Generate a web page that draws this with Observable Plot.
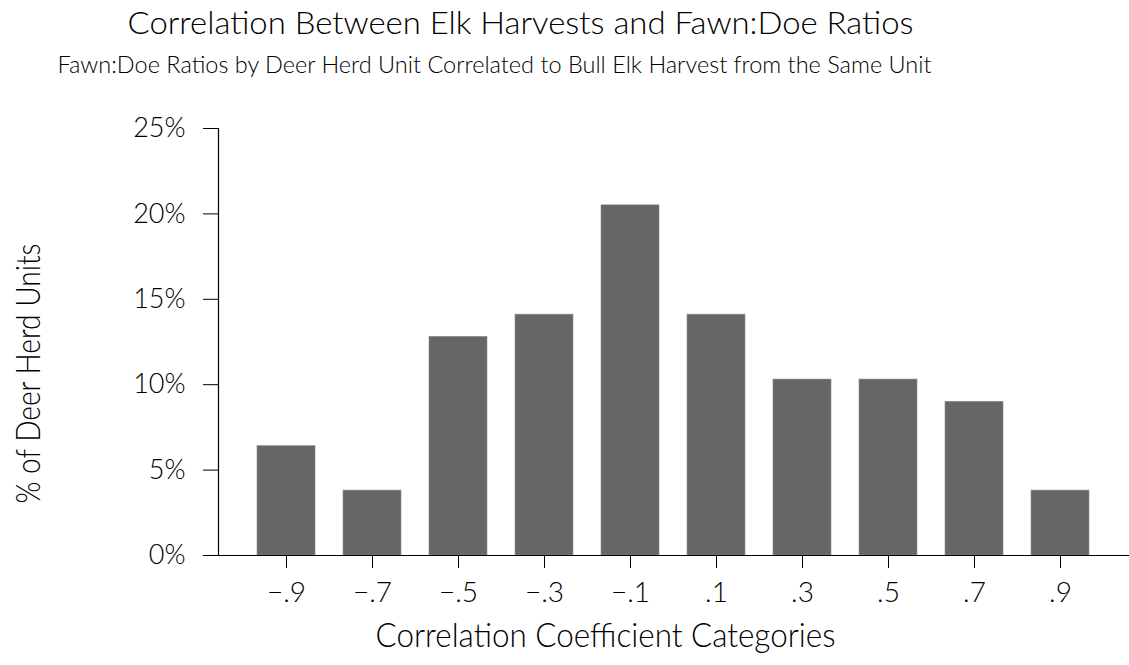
<!DOCTYPE html>
<html>
<head>
<meta charset="utf-8">
<script src="https://cdn.jsdelivr.net/npm/d3@7"></script>
<script src="https://cdn.jsdelivr.net/npm/@observablehq/plot@0.6"></script>
<style>
  html, body { margin: 0; padding: 0; background: #fff; }
  #chart svg { display: block; }
  #chart svg text { font-weight: 300; }
</style>
</head>
<body>
<div id="chart"></div>
<script>
const categories = ["−.9", "−.7", "−.5", "−.3", "−.1", ".1", ".3", ".5", ".7", ".9"];
const percents = [6.4, 3.8, 12.8, 14.1, 20.5, 14.1, 10.3, 10.3, 9.0, 3.8];
const yTicks = [0, 5, 10, 15, 20, 25];
const title = "Correlation Between Elk Harvests and Fawn:Doe Ratios";
const subtitle = "Fawn:Doe Ratios by Deer Herd Unit Correlated to Bull Elk Harvest from the Same Unit";
const xLabel = "Correlation Coefficient Categories";
const yLabel = "% of Deer Herd Units";

const data = categories.map((c, i) => ({category: c, value: percents[i]}));
const font = "Lato, Roboto, 'DejaVu Sans', sans-serif";

const chart = Plot.plot({
  width: 1129,
  height: 665,
  marginTop: 128,
  marginBottom: 110,
  marginLeft: 218,
  marginRight: 0,
  style: {fontFamily: font, color: "#000", background: "#fff"},
  x: {domain: categories, paddingInner: 0.32, paddingOuter: 0.41, label: null},
  y: {domain: [0, 25], label: null},
  marks: [
    Plot.barY(data, {x: "category", y: "value", fill: "#666666", stroke: "#8a8a8a", strokeWidth: 0.6}),
    Plot.ruleY([0], {insetLeft: -15, stroke: "#000", strokeWidth: 1.2}),
    Plot.frame({anchor: "left", stroke: "#000", strokeWidth: 1.2}),
    Plot.axisY({ticks: yTicks, tickFormat: d => d + "%", tickSize: 15, tickPadding: 18, fontSize: 27, label: null, stroke: "#000"}),
    Plot.axisX({tickSize: 13, tickPadding: 14, fontSize: 28, label: null, stroke: "#000"}),
    Plot.text([title], {frameAnchor: "top", text: d => d, fontSize: 32, lineAnchor: "middle", textAnchor: "middle", dx: 520 - 673.5, dy: 23 - 128, className: "t-title"}),
    Plot.text([subtitle], {frameAnchor: "top", text: d => d, fontSize: 23, lineAnchor: "middle", textAnchor: "middle", dx: 494 - 673.5, dy: 65 - 128, className: "t-sub"}),
    Plot.text([xLabel], {frameAnchor: "bottom", text: d => d, fontSize: 34, lineAnchor: "middle", textAnchor: "middle", dx: 605 - 673.5, dy: 636 - 555, className: "t-xlabel"}),
    Plot.text([yLabel], {frameAnchor: "left", text: d => d, fontSize: 34, lineAnchor: "middle", textAnchor: "middle", rotate: -90, dx: 29 - 218, dy: 373 - 341.5, className: "t-ylabel"})
  ]
});

// fit label widths to the reference
const fits = {"t-title": 786, "t-sub": 874, "t-xlabel": 460, "t-ylabel": 260};
for (const [cls, len] of Object.entries(fits)) {
  chart.querySelectorAll("g." + cls + " text").forEach(t => {
    t.setAttribute("textLength", len);
    t.setAttribute("lengthAdjust", "spacingAndGlyphs");
  });
}
document.getElementById("chart").appendChild(chart);
</script>
</body>
</html>
